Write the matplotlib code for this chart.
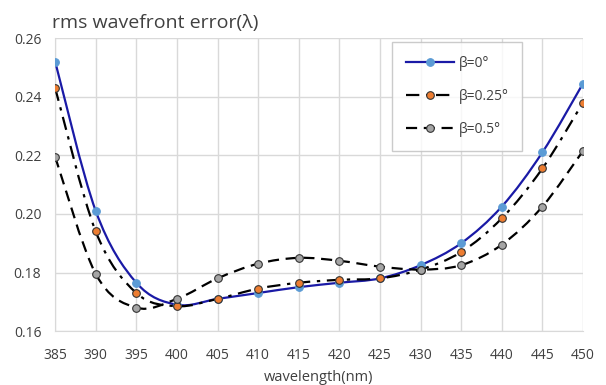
import numpy as np
import matplotlib.pyplot as plt
from matplotlib.path import Path
from matplotlib.patches import PathPatch
from matplotlib.lines import Line2D

plt.rcParams["font.family"] = ["Open Sans", "DejaVu Sans"]

wavelength = [385, 390, 395, 400, 405, 410, 415, 420, 425, 430, 435, 440, 445, 450]
beta_0 = [0.252, 0.201, 0.1765, 0.169, 0.171, 0.173, 0.175, 0.1765, 0.178, 0.1825, 0.190, 0.2025, 0.221, 0.2445]
beta_025 = [0.243, 0.194, 0.173, 0.1685, 0.171, 0.1745, 0.1765, 0.1775, 0.178, 0.181, 0.187, 0.1985, 0.2155, 0.238]
beta_05 = [0.2195, 0.1795, 0.168, 0.171, 0.178, 0.183, 0.185, 0.184, 0.182, 0.181, 0.1825, 0.1895, 0.2025, 0.2215]
labels = ["β=0°", "β=0.25°", "β=0.5°"]


def smooth_path(x, y):
    # Excel-style smoothed line: cubic Bezier segments through every point
    x = np.asarray(x, float)
    y = np.asarray(y, float)
    n = len(x)
    verts = [(x[0], y[0])]
    codes = [Path.MOVETO]
    for i in range(n - 1):
        i0 = max(i - 1, 0)
        i3 = min(i + 2, n - 1)
        c1 = (x[i] + (x[i + 1] - x[i0]) / 6, y[i] + (y[i + 1] - y[i0]) / 6)
        c2 = (x[i + 1] - (x[i3] - x[i]) / 6, y[i + 1] - (y[i3] - y[i]) / 6)
        verts += [c1, c2, (x[i + 1], y[i + 1])]
        codes += [Path.CURVE4] * 3
    return Path(verts, codes)


fig = plt.figure(figsize=(6.06, 3.85), dpi=100)
ax = fig.add_axes([0.091, 0.140, 0.871, 0.761])

styles = [
    dict(color="#1A1AA6", ls="-", lw=1.6, mfc="#5B9BD5", mec="#5B9BD5"),
    dict(color="black", ls=(0, (6, 3, 1.5, 3)), lw=1.6, mfc="#ED7D31", mec="#333333"),
    dict(color="black", ls=(0, (5, 3)), lw=1.6, mfc="#A5A5A5", mec="#333333"),
]

handles = []
for ys, st, lab in zip([beta_0, beta_025, beta_05], styles, labels):
    patch = PathPatch(smooth_path(wavelength, ys), fill=False, edgecolor=st["color"],
                      linestyle=st["ls"], linewidth=st["lw"], zorder=3)
    ax.add_patch(patch)
    ax.plot(wavelength, ys, ls="none", marker="o", markersize=5.5,
            markerfacecolor=st["mfc"], markeredgecolor=st["mec"], markeredgewidth=0.8, zorder=4)
    handles.append(Line2D([], [], color=st["color"], ls=st["ls"], lw=st["lw"], marker="o",
                          markersize=5.5, markerfacecolor=st["mfc"], markeredgecolor=st["mec"],
                          markeredgewidth=0.8))

ax.set_xlim(385, 450)
ax.set_ylim(0.16, 0.26)
ax.set_xticks(wavelength)
ax.set_yticks([0.16, 0.18, 0.20, 0.22, 0.24, 0.26])
ax.set_yticklabels(["0.16", "0.18", "0.20", "0.22", "0.24", "0.26"])
ax.grid(True, color="#D9D9D9", lw=1)
ax.set_axisbelow(True)
for s in ["top", "right"]:
    ax.spines[s].set_visible(False)
for s in ["left", "bottom"]:
    ax.spines[s].set_color("#D9D9D9")
ax.tick_params(length=0, labelsize=10, colors="#404040")
ax.tick_params(axis="x", pad=12)
ax.tick_params(axis="y", pad=10)

ax.set_xlabel("wavelength(nm)", fontsize=10.5, color="#404040", labelpad=5)
fig.text(0.086, 0.94, "rms wavefront error(λ)", fontsize=14, color="#404040", va="center")

leg = ax.legend(handles, labels, loc="upper left", bbox_to_anchor=(0.625, 1.01),
                fontsize=10, frameon=True, fancybox=False, edgecolor="#BFBFBF",
                handlelength=3.5, labelspacing=1.3, borderpad=1.0, handletextpad=0.3,
                labelcolor="#404040")
leg.get_frame().set_linewidth(1.0)

fig.savefig("out.png", dpi=100, facecolor="white")
